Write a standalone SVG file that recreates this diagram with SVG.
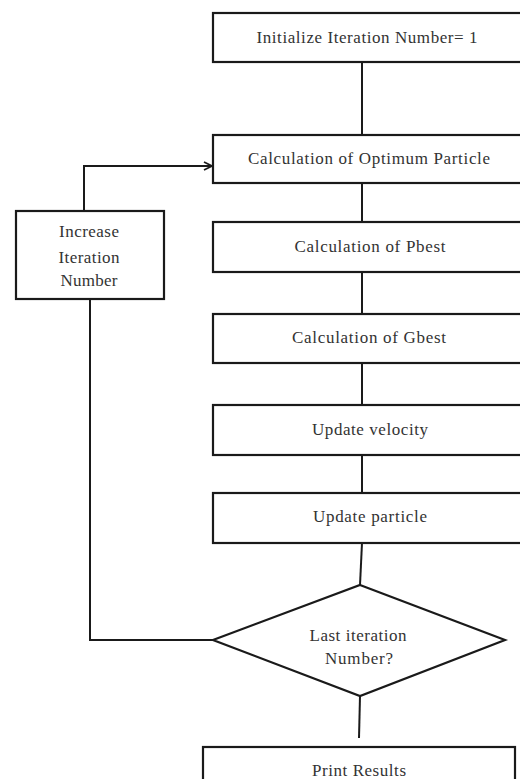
<svg xmlns="http://www.w3.org/2000/svg" width="520" height="779" viewBox="0 0 520 779">
<style>
.box{fill:#fff;stroke:#1a1a1a;stroke-width:2.2}
.ln{fill:none;stroke:#1a1a1a;stroke-width:2}
text{font-family:"Liberation Serif","Times New Roman",serif;font-size:17px;fill:#333;text-anchor:middle}
</style>
<defs>
<marker id="arr" viewBox="0 0 10 10" refX="9" refY="5" markerWidth="10" markerHeight="10" markerUnits="userSpaceOnUse" orient="auto">
<path d="M1,1 L9,5 L1,9" fill="none" stroke="#1a1a1a" stroke-width="1.8"/>
</marker>
</defs>
<rect width="520" height="779" fill="#fff"/>
<g id="connectors">
<line class="ln" x1="362" y1="62" x2="362" y2="135"/>
<line class="ln" x1="362" y1="183" x2="362" y2="222"/>
<line class="ln" x1="362" y1="272" x2="362" y2="314"/>
<line class="ln" x1="362" y1="363" x2="362" y2="405"/>
<line class="ln" x1="362" y1="455" x2="362" y2="493"/>
<line class="ln" x1="362" y1="543" x2="360" y2="585"/>
<line class="ln" x1="360" y1="696" x2="359" y2="738"/>
<polyline class="ln" points="213,640 90,640 90,299"/>
<polyline class="ln" points="84,211 84,166 212,166" marker-end="url(#arr)"/>
</g>
<g id="init"><rect class="box" x="213" y="13" width="312" height="49"/><text x="367" y="43" textLength="221" lengthAdjust="spacing">Initialize Iteration Number= 1</text></g>
<g id="optimum"><rect class="box" x="213" y="135" width="312" height="48"/><text x="369" y="164" textLength="242" lengthAdjust="spacing">Calculation of Optimum Particle</text></g>
<g id="increase"><rect class="box" x="16" y="211" width="148" height="88"/>
<text x="89" y="237" textLength="60" lengthAdjust="spacing">Increase</text>
<text x="89" y="263" textLength="61" lengthAdjust="spacing">Iteration</text>
<text x="89" y="286" textLength="57" lengthAdjust="spacing">Number</text></g>
<g id="pbest"><rect class="box" x="213" y="222" width="312" height="50"/><text x="370" y="252" textLength="151" lengthAdjust="spacing">Calculation of Pbest</text></g>
<g id="gbest"><rect class="box" x="213" y="314" width="312" height="49"/><text x="369" y="343" textLength="154" lengthAdjust="spacing">Calculation of Gbest</text></g>
<g id="velocity"><rect class="box" x="213" y="405" width="312" height="50"/><text x="370" y="435" textLength="116" lengthAdjust="spacing">Update velocity</text></g>
<g id="particle"><rect class="box" x="213" y="493" width="312" height="50"/><text x="370" y="522" textLength="114" lengthAdjust="spacing">Update particle</text></g>
<g id="decision"><polygon class="box" points="360,585 505,640 360,696 213,640"/>
<text x="358" y="641" textLength="97" lengthAdjust="spacing">Last iteration</text>
<text x="359" y="664" textLength="68" lengthAdjust="spacing">Number?</text></g>
<g id="print"><rect class="box" x="203" y="747" width="312" height="40"/><text x="359" y="776" textLength="94" lengthAdjust="spacing">Print Results</text></g>
</svg>
